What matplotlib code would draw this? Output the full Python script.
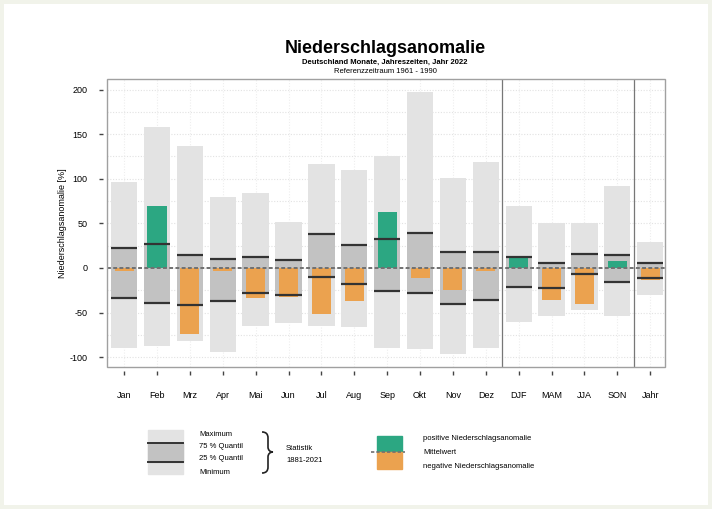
import numpy as np
import matplotlib
matplotlib.use('Agg')
import matplotlib.pyplot as plt
from matplotlib.patches import Rectangle, PathPatch
from matplotlib.path import Path

plt.rcParams['font.family'] = ['Liberation Sans', 'DejaVu Sans']
plt.rcParams['axes.unicode_minus'] = False

# Kategorien
labels = ['Jan', 'Feb', 'Mrz', 'Apr', 'Mai', 'Jun', 'Jul', 'Aug', 'Sep', 'Okt', 'Nov', 'Dez',
          'DJF', 'MAM', 'JJA', 'SON', 'Jahr']

# Statistik 1881-2021 (in %)
maximum = [96, 158, 137, 80, 84, 52, 117, 110, 126, 197, 101, 119, 69, 50, 50, 92, 29]
q75 = [22, 27, 14, 10, 12, 9, 38, 26, 32, 39, 18, 18, 12, 6, 16, 14, 6]
q25 = [-34, -39, -41, -37, -28, -30, -10, -18, -26, -28, -40, -36, -21, -22, -7, -16, -11]
minimum = [-90, -87, -82, -94, -65, -62, -65, -66, -90, -91, -96, -90, -61, -54, -47, -54, -30]

# Anomalie 2022
anomalie = [-3, 69, -74, -3, -34, -32, -52, -37, 63, -11, -25, -3, 11, -36, -40, 8, -14]

c_light = '#e3e3e3'
c_mid = '#c2c2c2'
c_pos = '#2ca782'
c_neg = '#eba24f'

x = np.arange(len(labels))
mx = np.array(maximum)
mn = np.array(minimum)
hi = np.array(q75)
lo = np.array(q25)
an = np.array(anomalie)

fig = plt.figure(figsize=(7.12, 5.09), dpi=100, facecolor='#f1f3ea')
fig.patches.append(Rectangle((0.006, 0.008), 0.988, 0.984, transform=fig.transFigure,
                             facecolor='white', edgecolor='none', zorder=-1))

ax = fig.add_axes([0.1503, 0.279, 0.7837, 0.566])
ax.set_xlim(-0.52, 16.45)
ax.set_ylim(-111, 212)

# Gitter
for yv in np.arange(-100, 201, 25):
    ax.axhline(yv, color='#e2e2e2', lw=0.8, ls=(0, (1, 1.5)), zorder=0)
for xv in x:
    ax.axvline(xv, color='#eeeeee', lw=0.8, ls=(0, (1, 1.5)), zorder=0)

w = 0.8
ax.bar(x, mx - mn, bottom=mn, width=w, color=c_light, zorder=1)
ax.bar(x, hi - lo, bottom=lo, width=w, color=c_mid, zorder=2)
cols = [c_pos if v > 0 else c_neg for v in an]
ax.bar(x, an, width=0.58, color=cols, zorder=3)
ax.hlines(hi, x - w / 2, x + w / 2, color='#333333', lw=1.6, zorder=4)
ax.hlines(lo, x - w / 2, x + w / 2, color='#333333', lw=1.6, zorder=4)
ax.axhline(0, color='#707070', lw=1.4, ls=(0, (2, 1.2)), zorder=5)

for xs in [11.5, 15.5]:
    ax.axvline(xs, color='#777777', lw=0.9, zorder=6)

# Rahmen
for s in ax.spines.values():
    s.set_visible(False)
ax.spines['left'].set_position(('outward', 3))
ax.spines['bottom'].set_position(('outward', 3))
ax.add_patch(Rectangle((0, 0), 1, 1, transform=ax.transAxes, fill=False,
                       ec='#a0a0a0', lw=1, clip_on=False, zorder=7))

ax.set_xticks(x)
ax.set_xticklabels(labels, fontsize=6.5)
ax.set_yticks([-100, -50, 0, 50, 100, 150, 200])
ax.tick_params(axis='y', labelsize=6.5, length=3, width=1, color='#444444', pad=8)
ax.tick_params(axis='x', length=3, width=1, color='#444444', pad=11)
ax.set_ylabel('Niederschlagsanomalie [%]', fontsize=6.5, labelpad=2)

# Titel
fig.text(0.541, 0.905, 'Niederschlagsanomalie', ha='center', va='center',
         fontsize=13, fontweight='bold')
fig.text(0.541, 0.877, 'Deutschland Monate, Jahreszeiten, Jahr 2022', ha='center',
         va='center', fontsize=5.5, fontweight='bold')
fig.text(0.541, 0.859, 'Referenzzeitraum 1961 - 1990', ha='center', va='center', fontsize=5.5)

# Legende (Pixelkoordinaten)
lg = fig.add_axes([0, 0, 1, 1], facecolor='none')
lg.set_xlim(0, 712)
lg.set_ylim(509, 0)
lg.axis('off')

lg.add_patch(Rectangle((148, 430), 35, 44, color=c_light))
lg.add_patch(Rectangle((148, 443), 35, 19, color=c_mid))
lg.plot([148, 183], [443, 443], color='#333333', lw=1.4)
lg.plot([148, 183], [462, 462], color='#333333', lw=1.4)
for ty, tt in zip([434, 447, 459, 472], ['Maximum', '75 % Quantil', '25 % Quantil', 'Minimum']):
    lg.text(199, ty, tt, fontsize=5.5, va='center', ha='left')

# geschweifte Klammer
verts = [(262, 432), (266, 432), (268, 434), (268, 438), (268, 447),
         (268, 450), (270, 452), (273, 452),
         (270, 452), (268, 454), (268, 457), (268, 467),
         (268, 471), (266, 473), (262, 473)]
codes = [Path.MOVETO, Path.CURVE4, Path.CURVE4, Path.CURVE4, Path.LINETO,
         Path.CURVE4, Path.CURVE4, Path.CURVE4,
         Path.CURVE4, Path.CURVE4, Path.CURVE4, Path.LINETO,
         Path.CURVE4, Path.CURVE4, Path.CURVE4]
lg.add_patch(PathPatch(Path(verts, codes), fill=False, ec='#222222', lw=1.2))
lg.text(286, 448, 'Statistik', fontsize=5.5, va='center', ha='left')
lg.text(286, 460, '1881-2021', fontsize=5.5, va='center', ha='left')

lg.add_patch(Rectangle((377, 436), 25, 16, color=c_pos))
lg.add_patch(Rectangle((377, 452), 25, 17, color=c_neg))
lg.plot([371, 405], [452, 452], color='#707070', lw=1.2, ls=(0, (2, 1.2)))
lg.text(423, 439, 'positive Niederschlagsanomalie', fontsize=5.5, va='center', ha='left')
lg.text(423, 453, 'Mittelwert', fontsize=5.5, va='center', ha='left')
lg.text(423, 466, 'negative Niederschlagsanomalie', fontsize=5.5, va='center', ha='left')

plt.savefig('out.png', dpi=100, facecolor=fig.get_facecolor())
plt.close()
